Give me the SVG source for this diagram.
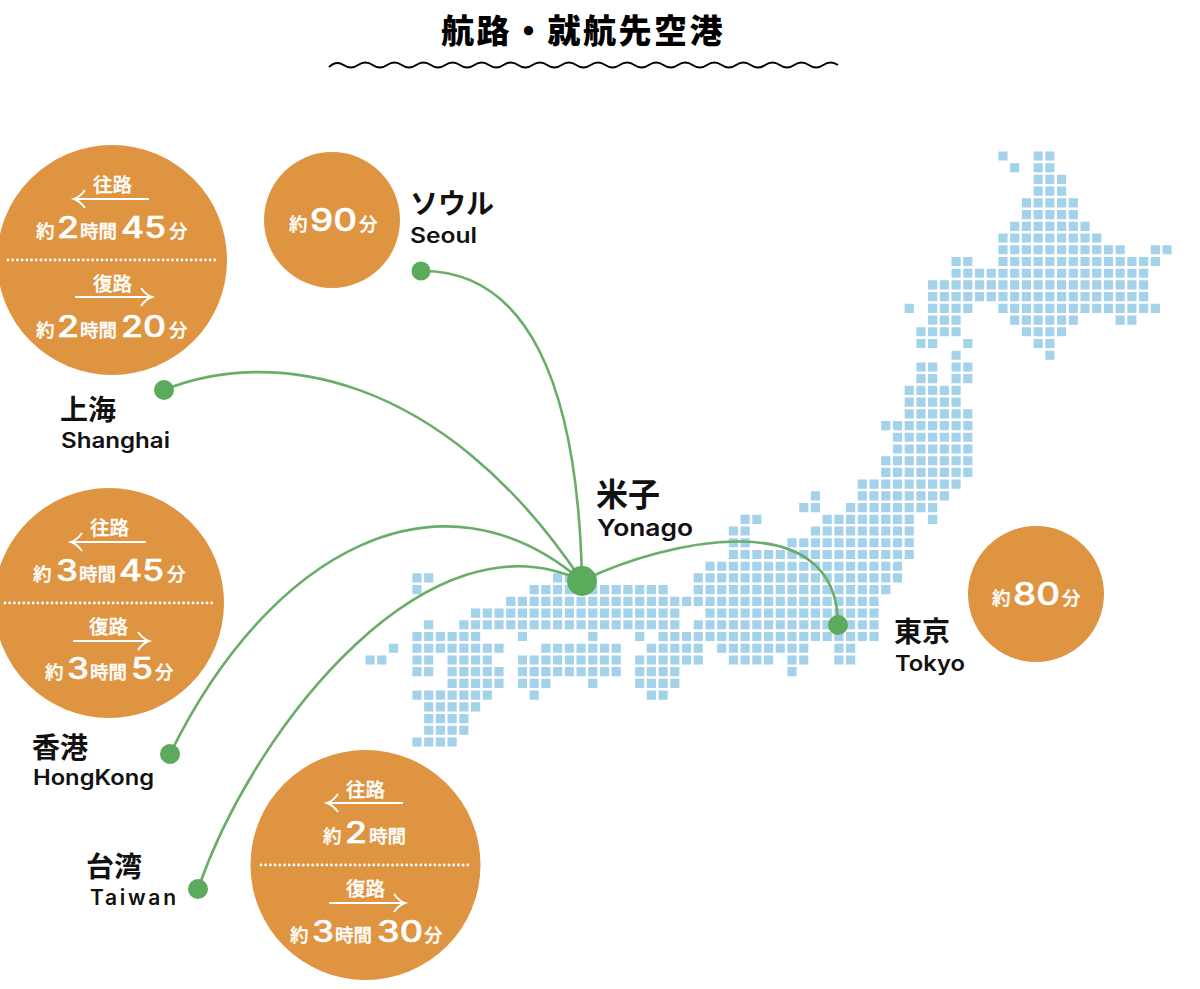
<svg xmlns="http://www.w3.org/2000/svg" width="1200" height="989" viewBox="0 0 1200 989">
<defs><filter id="soft" filterUnits="userSpaceOnUse" x="350" y="140" width="840" height="620"><feGaussianBlur stdDeviation=".35"/></filter></defs>
<style>
text{font-family:"Noto Sans CJK JP","Noto Sans",sans-serif}
.title{font-size:33px;font-weight:900;letter-spacing:2.5px;fill:#000}
.wave{fill:none;stroke:#000;stroke-width:2}
.map{fill:none;stroke:#a3d2ea;stroke-width:.78;stroke-dasharray:.78 .22}
.route{fill:none;stroke:#69ad69;stroke-width:2.6}
.dot{fill:#5caa5c}
.disc{fill:#de9440}
.jp{font-size:28px;font-weight:700;fill:#111}
.en{font-family:Inter,"Liberation Sans",sans-serif;font-size:21px;font-weight:600;fill:#111}
.w{font-size:18.5px;font-weight:500;fill:#fff;stroke:#fff;stroke-width:.35}
.h{font-size:19.5px;font-weight:500;fill:#fff;stroke:#fff;stroke-width:.3}
.d{font-family:Inter,"Liberation Sans",sans-serif;font-size:30px;font-weight:500;fill:#fff;stroke-width:.5}
.a{fill:none;stroke:#fff;stroke-width:2}
.sep{fill:none;stroke:#fff;stroke-width:2.8;stroke-linecap:round;stroke-dasharray:0 4.7}
</style>
<g id="title"><text class="title" x="441" y="42.5">航路・就航先空港</text>
<path class="wave" d="M329 67q7.27 -7 14.54 -2t14.54 0t14.54 0t14.54 0t14.54 0t14.54 0t14.54 0t14.54 0t14.54 0t14.54 0t14.54 0t14.54 0t14.54 0t14.54 0t14.54 0t14.54 0t14.54 0t14.54 0t14.54 0t14.54 0t14.54 0t14.54 0t14.54 0t14.54 0t14.54 0t14.54 0t14.54 0t14.54 0t14.54 0t14.54 0t14.54 0t14.54 0t14.54 0t14.54 0t14.54 0"/></g>
<g id="japan-map" filter="url(#soft)"><path class="map" transform="translate(365.53 156) scale(11.72)" d="M54 0h1M57 0h2M55 1h1M57 1h2M57 2h3M57 3h3M56 4h5M56 5h5M55 6h7M54 7h9M54 8h11M67 8h2M50 9h2M54 9h14M50 10h17M48 11h19M48 12h19M46 13h1M48 13h4M54 13h14M48 14h3M55 14h6M64 14h2M47 15h4M56 15h4M47 16h2M51 16h1M57 16h2M50 17h1M58 17h1M47 18h2M50 18h2M47 19h2M50 19h2M46 20h5M46 21h5M46 22h6M44 23h8M45 24h7M45 25h7M44 26h8M44 27h8M42 28h9M38 29h1M42 29h8M37 30h2M41 30h8M32 31h2M39 31h8M48 31h1M31 32h2M38 32h9M31 33h2M36 33h11M31 34h16M29 35h17M4 36h2M16 36h3M28 36h18M4 37h1M14 37h12M28 37h17M12 38h32M9 39h18M29 39h15M5 40h1M8 40h19M28 40h16M4 41h6M13 41h1M19 41h1M23 41h1M25 41h19M2 42h1M4 42h8M15 42h7M24 42h5M30 42h8M40 42h2M0 43h2M4 43h2M7 43h4M13 43h9M23 43h6M31 43h4M36 43h2M40 43h2M4 44h2M7 44h5M13 44h9M23 44h4M36 44h1M7 45h5M13 45h3M19 45h1M23 45h4M4 46h7M14 46h1M24 46h2M5 47h5M5 48h4M5 49h4M4 50h4"/></g>
<g id="connectors">
<path class="route" d="M421 271C525 270 578 380 582 581"/>
<path class="route" d="M164 390C268 348 440 368 582 581"/>
<path class="route" d="M170 754C270 550 440 460 582 581"/>
<path class="route" d="M198 889C256 722 431 508 582 581"/>
<path class="route" d="M582 581C665 540 838 502 838 625"/>
</g>
<g id="yonago"><circle class="dot" cx="582" cy="581" r="15"/><text class="jp" style="font-size:32px" x="596" y="506">米子</text><text class="en" style="font-size:23px" x="597" y="536" textLength="96" lengthAdjust="spacingAndGlyphs">Yonago</text></g>
<g id="seoul"><circle class="dot" cx="421" cy="271" r="9.5"/><circle class="disc" cx="332" cy="220" r="68"/>
<text class="jp" x="410" y="214">ソウル</text><text class="en" x="410" y="243" textLength="67" lengthAdjust="spacingAndGlyphs">Seoul</text>
<text class="w" y="231"><tspan x="289">約</tspan><tspan class="d" x="310" style="font-size:31px" textLength="47" lengthAdjust="spacingAndGlyphs">90</tspan><tspan x="359">分</tspan></text></g>
<g id="tokyo"><circle class="dot" cx="838" cy="625" r="10"/><circle class="disc" cx="1036" cy="594" r="68"/>
<text class="jp" x="894" y="642">東京</text><text class="en" x="895" y="671" textLength="70" lengthAdjust="spacingAndGlyphs">Tokyo</text>
<text class="w" y="605"><tspan x="992">約</tspan><tspan class="d" x="1013" style="font-size:31px" textLength="47" lengthAdjust="spacingAndGlyphs">80</tspan><tspan x="1062">分</tspan></text></g>
<g id="shanghai"><circle class="dot" cx="164" cy="390" r="10"/><circle class="disc" cx="112" cy="260" r="115"/>
<text class="jp" x="60" y="420">上海</text><text class="en" x="61" y="448" textLength="109" lengthAdjust="spacingAndGlyphs">Shanghai</text>
<text class="h" x="93" y="192">往路</text><path class="a" d="M149 199H74M85 190Q80 197 74 199Q80 201 85 208"/>
<text class="w" y="238"><tspan x="36">約</tspan><tspan class="d" x="57" textLength="22" lengthAdjust="spacingAndGlyphs">2</tspan><tspan x="80">時間</tspan><tspan class="d" x="121" textLength="45" lengthAdjust="spacingAndGlyphs">45</tspan><tspan x="169">分</tspan></text>
<path class="sep" d="M8 260H216"/>
<text class="h" x="93" y="291">復路</text><path class="a" d="M75 297H152M141 288Q146 295 152 297Q146 299 141 306"/>
<text class="w" y="337"><tspan x="36">約</tspan><tspan class="d" x="57" textLength="22" lengthAdjust="spacingAndGlyphs">2</tspan><tspan x="80">時間</tspan><tspan class="d" x="121" textLength="45" lengthAdjust="spacingAndGlyphs">20</tspan><tspan x="169">分</tspan></text></g>
<g id="hongkong"><circle class="dot" cx="170" cy="754" r="10"/><circle class="disc" cx="109" cy="603" r="115"/>
<text class="jp" x="32" y="758">香港</text><text class="en" x="33" y="785" textLength="121" lengthAdjust="spacingAndGlyphs">HongKong</text>
<text class="h" x="90" y="535">往路</text><path class="a" d="M146 542H71M82 533Q77 540 71 542Q77 544 82 551"/>
<text class="w" y="581"><tspan x="33">約</tspan><tspan class="d" x="56" textLength="22" lengthAdjust="spacingAndGlyphs">3</tspan><tspan x="79">時間</tspan><tspan class="d" x="119" textLength="45" lengthAdjust="spacingAndGlyphs">45</tspan><tspan x="167">分</tspan></text>
<path class="sep" d="M5 603H214"/>
<text class="h" x="89" y="634">復路</text><path class="a" d="M73 641H149M138 632Q143 639 149 641Q143 643 138 650"/>
<text class="w" y="679"><tspan x="45">約</tspan><tspan class="d" x="67" textLength="22" lengthAdjust="spacingAndGlyphs">3</tspan><tspan x="90">時間</tspan><tspan class="d" x="131" textLength="22" lengthAdjust="spacingAndGlyphs">5</tspan><tspan x="155">分</tspan></text></g>
<g id="taiwan"><circle class="dot" cx="198" cy="889" r="10"/><circle class="disc" cx="365.5" cy="865" r="115"/>
<text class="jp" x="86" y="877">台湾</text><text class="en" x="90" y="905" textLength="86" lengthAdjust="spacing">Taiwan</text>
<text class="h" x="346" y="797">往路</text><path class="a" d="M403 803H327M338 794Q333 801 327 803Q333 805 338 812"/>
<text class="w" y="843"><tspan x="323">約</tspan><tspan class="d" x="345" textLength="22" lengthAdjust="spacingAndGlyphs">2</tspan><tspan x="369">時間</tspan></text>
<path class="sep" d="M261 865H470"/>
<text class="h" x="346" y="896">復路</text><path class="a" d="M329 903H405M394 894Q399 901 405 903Q399 905 394 912"/>
<text class="w" y="942"><tspan x="290">約</tspan><tspan class="d" x="312" textLength="22" lengthAdjust="spacingAndGlyphs">3</tspan><tspan x="335">時間</tspan><tspan class="d" x="377" textLength="46" lengthAdjust="spacingAndGlyphs">30</tspan><tspan x="424">分</tspan></text></g>
</svg>
